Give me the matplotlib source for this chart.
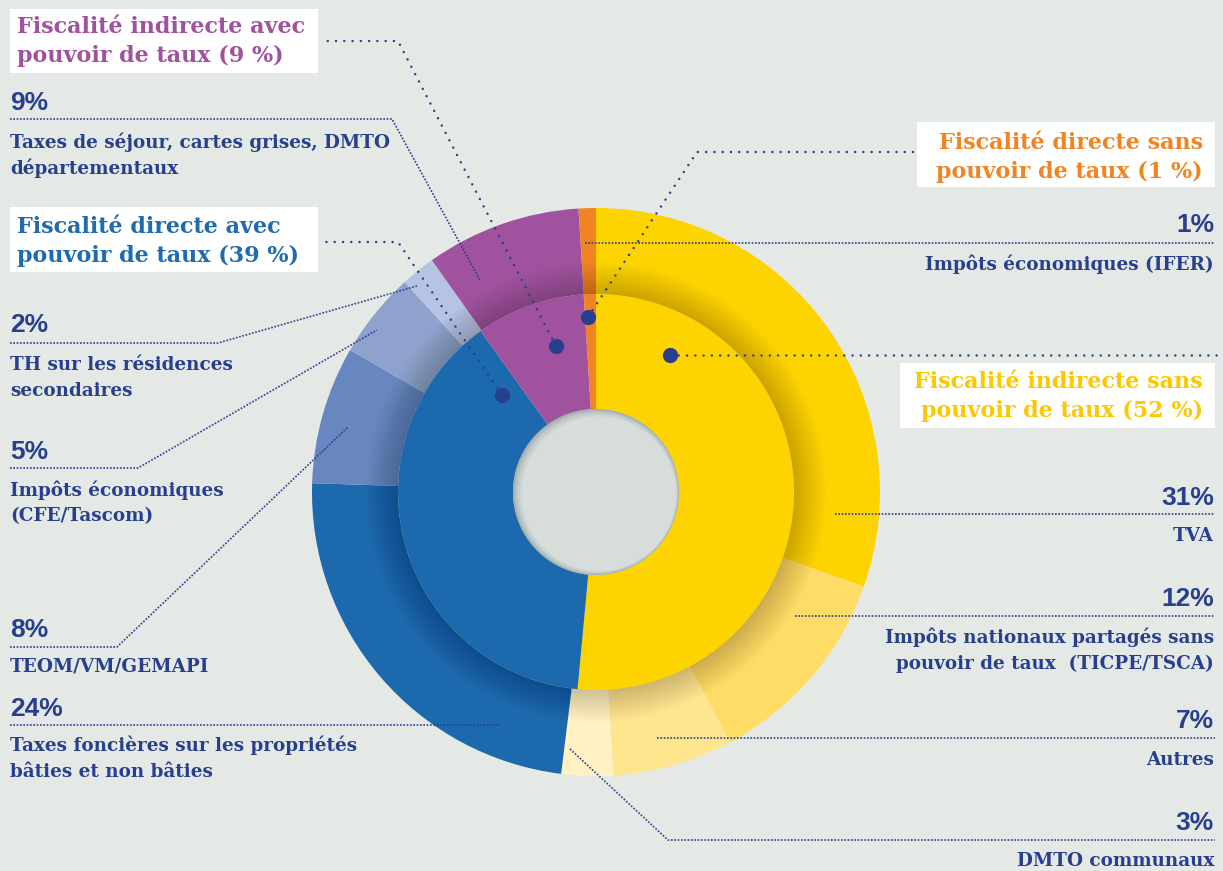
"""
Répartition des recettes fiscales — double anneau (catégories / sous-catégories).
"""

import matplotlib
matplotlib.use("Agg")
import matplotlib.pyplot as plt
from matplotlib.colors import to_rgb
from matplotlib.patches import Rectangle, Wedge, Circle

W, H = 1223, 871
BG = "#e4e9e6"
NAVY = "#283f8e"

# anneau intérieur : grandes catégories, sens horaire depuis midi
MAIN_VALUES = [52, 39, 9, 1]
MAIN_TITLES = [
    "Fiscalité indirecte sans\npouvoir de taux (52 %)",
    "Fiscalité directe avec\npouvoir de taux (39 %)",
    "Fiscalité indirecte avec\npouvoir de taux (9 %)",
    "Fiscalité directe sans\npouvoir de taux (1 %)",
]
MAIN_COLORS = ["#fdd400", "#1d69ad", "#a0529e", "#f18422"]
TITLE_COLORS = ["#fcc800", "#1f6bad", "#a0529e", "#f18422"]

# anneau extérieur : sous-catégories, même ordre
SUB_VALUES = [31, 12, 7, 3, 24, 8, 5, 2, 9, 1]
SUB_LABELS = [
    "TVA",
    "Impôts nationaux partagés sans\npouvoir de taux  (TICPE/TSCA)",
    "Autres",
    "DMTO communaux",
    "Taxes foncières sur les propriétés\nbâties et non bâties",
    "TEOM/VM/GEMAPI",
    "Impôts économiques\n(CFE/Tascom)",
    "TH sur les résidences\nsecondaires",
    "Taxes de séjour, cartes grises, DMTO\ndépartementaux",
    "Impôts économiques (IFER)",
]
SUB_COLORS = ["#fdd400", "#fedc66", "#fee68f", "#fff1c2",
              "#1d69ad", "#6887c0", "#8fa2ce", "#b7c3e3",
              "#a0529e", "#f18422"]

# géométrie (pixels)
CX, CY = 596, 492
R_OUT, R_MID, R_HOLE = 284, 198, 83

# mise en page des étiquettes : (côté, ligne du %, 1re ligne du texte, tracé du renvoi)
SUB_LAYOUT = [
    ("right", 505, 541, [(835, 514), (1215, 514)]),
    ("right", 606, 643, [(795, 616), (1215, 616)]),
    ("right", 728, 765, [(657, 738), (1215, 738)]),
    ("right", 830, 866, [(570, 749), (668, 840), (1215, 840)]),
    ("left", 716, 751, [(10, 725), (500, 725)]),
    ("left", 637, 671, [(10, 647), (117, 647), (348, 427)]),
    ("left", 459, 496, [(10, 468), (138, 468), (377, 330)]),
    ("left", 332, 370, [(10, 343), (218, 343), (417, 286)]),
    ("left", 110, 148, [(10, 119), (392, 119), (480, 280)]),
    ("right", 232, 270, [(585, 243), (1215, 243)]),
]

# (cadre x, y, l, h), côté, 1re ligne, renvoi (point -> cadre)
TITLE_LAYOUT = [
    ((900, 363, 315, 65), "right", 388, [(670, 355), (1218, 355)]),
    ((10, 207, 308, 65), "left", 233, [(502, 395), (398, 242), (322, 242)]),
    ((10, 9, 308, 64), "left", 33, [(556, 346), (398, 41), (322, 41)]),
    ((917, 122, 298, 65), "right", 149, [(588, 317), (697, 152), (913, 152)]),
]

SERIF = dict(family=["DejaVu Serif"], fontweight="bold")
SANS = dict(family=["Liberation Sans", "DejaVu Sans"], fontweight="bold")


def draw_lines(ax, x, y0, text, step, ha, color, size, font):
    for i, line in enumerate(text.split("\n")):
        ax.text(x, y0 + i * step, line, ha=ha, va="baseline",
                color=color, fontsize=size, zorder=6, **font)


def blend(c1, c2, t):
    a, b = to_rgb(c1), to_rgb(c2)
    return tuple(x + (y - x) * t for x, y in zip(a, b))


def main():
    fig = plt.figure(figsize=(W / 100, H / 100), dpi=100, facecolor=BG)
    ax = fig.add_axes([0, 0, 1, 1])
    ax.set_facecolor(BG)

    # anneau extérieur
    ax.pie(SUB_VALUES, colors=SUB_COLORS, radius=R_OUT, center=(CX, CY),
           startangle=-90, counterclock=True,
           wedgeprops=dict(width=R_OUT - R_MID, linewidth=0))

    # ombre portée de l'anneau intérieur sur l'extérieur
    for i in range(16):
        r = R_MID + 2 * (i + 1)
        ax.add_patch(Wedge((CX, CY), r, 0, 360, width=r - R_MID + 1,
                           facecolor="black", alpha=0.011, linewidth=0, zorder=2))

    # anneau intérieur
    wedges, _ = ax.pie(MAIN_VALUES, colors=MAIN_COLORS, radius=R_MID, center=(CX, CY),
                       startangle=-90, counterclock=True,
                       wedgeprops=dict(width=R_MID - R_HOLE, linewidth=0))
    for w in wedges:
        w.set_zorder(3)

    # trou central, ombre intérieure décalée vers le haut à gauche
    hole = Circle((CX, CY), R_HOLE, facecolor="#9eaaa8", linewidth=0, zorder=4)
    ax.add_patch(hole)
    n = 8
    for i in range(1, n + 1):
        t = i / n
        c = Circle((CX + 3 * t, CY + 2 * t), R_HOLE - 6 * t,
                   facecolor=blend("#9eaaa8", "#d6dddb", t ** 0.6),
                   linewidth=0, zorder=4)
        ax.add_patch(c)
        c.set_clip_path(hole)

    # sous-catégories
    for value, label, (side, y_pct, y_txt, path) in zip(SUB_VALUES, SUB_LABELS, SUB_LAYOUT):
        x = 10 if side == "left" else 1214
        ha = "left" if side == "left" else "right"
        ax.text(x, y_pct, f"{value}%", ha=ha, va="baseline", color=NAVY,
                fontsize=19, zorder=6, **SANS)
        draw_lines(ax, x, y_txt, label, 25.5, ha, NAVY, 13.2, SERIF)
        xs, ys = zip(*path)
        ax.plot(xs, ys, color=NAVY, linewidth=1.2, linestyle=(0, (1, 1)), zorder=5)

    # grandes catégories
    for title, color, (box, side, y_txt, path) in zip(MAIN_TITLES, TITLE_COLORS, TITLE_LAYOUT):
        bx, by, bw, bh = box
        ax.add_patch(Rectangle((bx, by), bw, bh, facecolor="white", linewidth=0, zorder=5))
        x = bx + 7 if side == "left" else bx + bw - 12
        ha = "left" if side == "left" else "right"
        draw_lines(ax, x, y_txt, title, 29, ha, color, 16, SERIF)
        xs, ys = zip(*path)
        ax.plot(xs, ys, color=NAVY, linewidth=1.8, linestyle=(0, (0.01, 3.3)),
                dash_capstyle="round", zorder=5)
        ax.plot(xs[0], ys[0], "o", color=NAVY, markersize=10, zorder=7)

    ax.set_xlim(0, W)
    ax.set_ylim(H, 0)
    ax.set_aspect("equal")
    ax.axis("off")
    fig.savefig("out.png", dpi=100, facecolor=BG)
    plt.close(fig)


if __name__ == "__main__":
    main()
